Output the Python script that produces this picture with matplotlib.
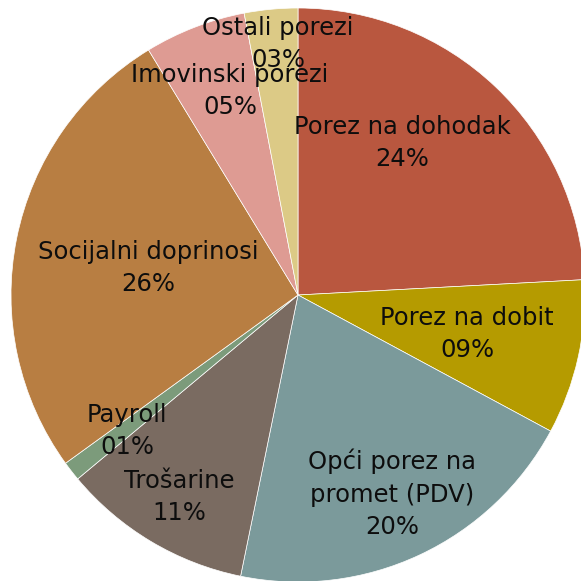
import matplotlib.pyplot as plt

labels = ["Porez na dohodak", "Porez na dobit", "Opći porez na\npromet (PDV)",
          "Trošarine", "Payroll", "Socijalni doprinosi",
          "Imovinski porezi", "Ostali porezi"]
shares = [24.1, 8.7, 20.3, 10.7, 1.1, 26.2, 5.7, 3.0]
pct_text = ["24%", "09%", "20%", "11%", "01%", "26%", "05%", "03%"]
colors = ["#B9573F", "#B59B00", "#7B9A9B", "#7A6B61",
          "#7C9B7B", "#B87E42", "#DE9B93", "#DCCA86"]

# label centres, in pie units (centre 0,0, radius 1)
label_pos = [(0.362, 0.530), (0.589, -0.136), (0.328, -0.693), (-0.415, -0.704),
             (-0.596, -0.474), (-0.523, 0.094), (-0.237, 0.711), (-0.070, 0.875)]

fig = plt.figure(figsize=(5.81, 5.81), dpi=100)
ax = fig.add_axes([0, 0, 1, 1])

ax.pie(shares, colors=colors, startangle=90, counterclock=False,
       wedgeprops=dict(edgecolor="white", linewidth=0.5))

for lab, pct, (x, y) in zip(labels, pct_text, label_pos):
    ax.text(x, y, lab + "\n" + pct, ha="center", va="center",
            fontsize=17.5, color="#0d0d0d", linespacing=1.45,
            family="DejaVu Sans")

ax.set_xlim(-298 / 287, 283 / 287)
ax.set_ylim(-286 / 287, 295 / 287)
ax.set_aspect("auto")
ax.axis("off")

fig.savefig("out.png", dpi=100)
